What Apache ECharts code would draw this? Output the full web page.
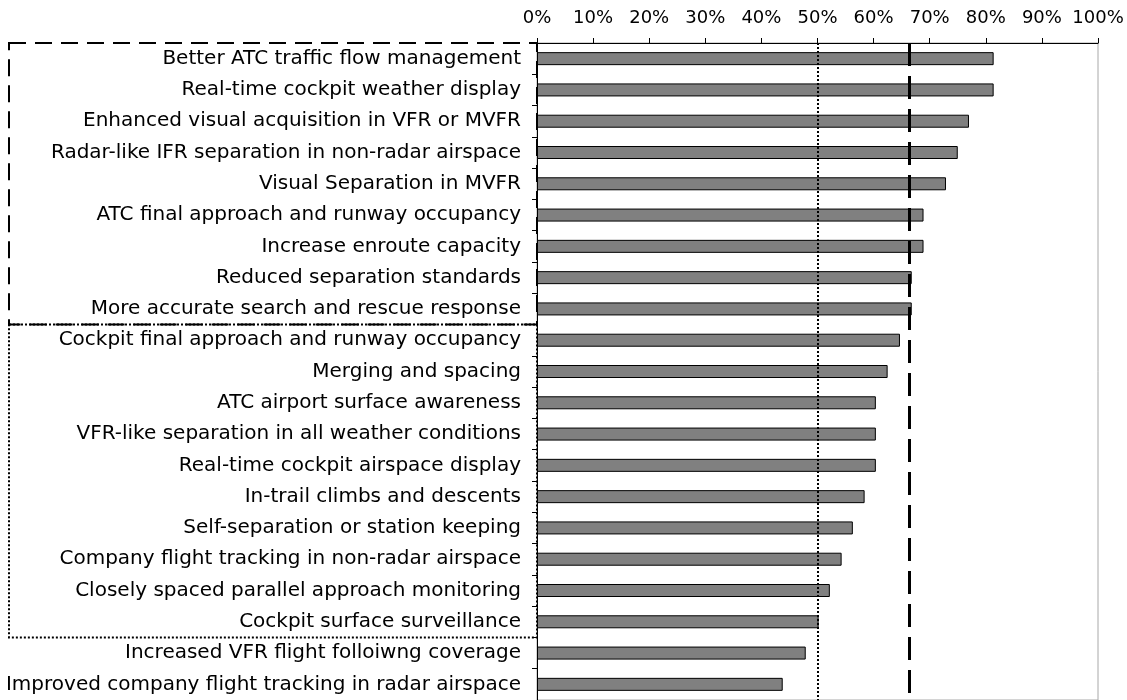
<!DOCTYPE html>
<html>
<head>
<meta charset="utf-8">
<script src="https://cdn.jsdelivr.net/npm/echarts@6/dist/echarts.min.js"></script>
<style>
  html, body { margin: 0; padding: 0; background: #fff; }
  #main { width: 1127px; height: 700px; }
</style>
</head>
<body>
<div id="main"></div>
<script>
  // categories, top to bottom
  var categories = [
    'Better ATC traffic flow management',
    'Real-time cockpit weather display',
    'Enhanced visual acquisition in VFR or MVFR',
    'Radar-like IFR separation in non-radar airspace',
    'Visual Separation in MVFR',
    'ATC final approach and runway occupancy',
    'Increase enroute capacity',
    'Reduced separation standards',
    'More accurate search and rescue response',
    'Cockpit final approach and runway occupancy',
    'Merging and spacing',
    'ATC airport surface awareness',
    'VFR-like separation in all weather conditions',
    'Real-time cockpit airspace display',
    'In-trail climbs and descents',
    'Self-separation or station keeping',
    'Company flight tracking in non-radar airspace',
    'Closely spaced parallel approach monitoring',
    'Cockpit surface surveillance',
    'Increased VFR flight folloiwng coverage',
    'Improved company flight tracking in radar airspace'
  ];
  // percent of respondents
  var values = [81.4, 81.4, 77.0, 75.0, 72.9, 68.9, 68.9, 66.8, 66.8, 64.7,
                62.5, 60.4, 60.4, 60.4, 58.4, 56.3, 54.3, 52.2, 50.2, 47.9, 43.8];
  // reference lines
  var halfLine = 50;
  var thirdsLine = 66.3;
  // how many categories sit in each box
  var topGroupCount = 9;
  var midGroupCount = 10;

  var gridLeft = 537, gridTop = 43, gridRight = 29, gridHeight = 657;
  var band = gridHeight / categories.length;

  var myChart = echarts.init(document.getElementById('main'));
  var option = {
    animation: false,
    grid: {
      left: gridLeft, right: gridRight, top: gridTop, height: gridHeight,
      show: true, borderColor: '#a8a8a8', borderWidth: 1, backgroundColor: 'transparent'
    },
    xAxis: {
      type: 'value',
      position: 'top',
      min: 0, max: 100, interval: 10,
      axisLine: { show: true, lineStyle: { color: '#000', width: 1 } },
      axisTick: { show: true, length: 5, lineStyle: { color: '#000' } },
      splitLine: { show: false },
      axisLabel: {
        formatter: '{value}%', color: '#000', margin: 16,
        fontFamily: 'DejaVu Sans', fontSize: 18
      }
    },
    yAxis: {
      type: 'category',
      inverse: true,
      data: categories,
      axisLine: { show: true, lineStyle: { color: '#000', width: 1 } },
      axisTick: { show: true, length: 5, lineStyle: { color: '#000' } },
      axisLabel: {
        color: '#000', margin: 16,
        fontFamily: 'DejaVu Sans', fontSize: 20
      }
    },
    series: [{
      type: 'bar',
      data: values,
      barWidth: 13,
      itemStyle: { color: '#808080', borderColor: '#000', borderWidth: 1 },
      markLine: {
        silent: true,
        symbol: 'none',
        label: { show: false },
        z: 10,
        data: [
          { xAxis: halfLine, lineStyle: { color: '#000', width: 2, type: [2, 2] } },
          { xAxis: thirdsLine, lineStyle: { color: '#000', width: 3, type: [23, 10] } }
        ]
      }
    }],
    graphic: [
      {
        type: 'rect',
        z: 100,
        shape: { x: 9, y: gridTop, width: gridLeft - 9, height: band * topGroupCount },
        style: { fill: 'none', stroke: '#000', lineWidth: 2, lineDash: [17, 9] }
      },
      {
        type: 'rect',
        z: 100,
        shape: { x: 9, y: gridTop + band * topGroupCount, width: gridLeft - 9, height: band * midGroupCount },
        style: { fill: 'none', stroke: '#000', lineWidth: 2, lineDash: [2, 2] }
      }
    ]
  };
  myChart.setOption(option);
</script>
</body>
</html>
